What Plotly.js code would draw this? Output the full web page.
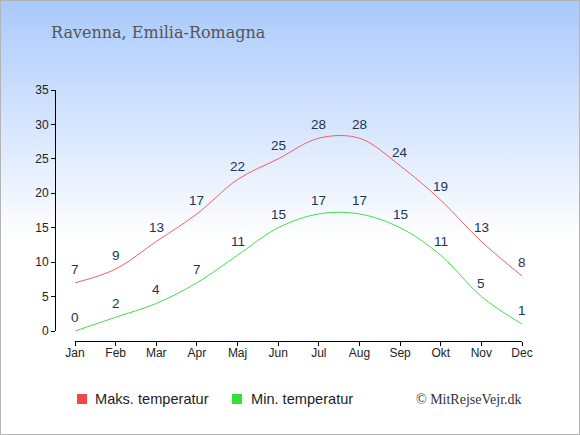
<!DOCTYPE html>
<html><head><meta charset="utf-8">
<script src="https://cdn.plot.ly/plotly-3.0.1.min.js"></script>
<style>
html,body{margin:0;padding:0;}
#wrap{position:relative;width:580px;height:435px;background:linear-gradient(to bottom,#a9c9fb 0%,#ffffff 55%);}
#wrap:after{content:"";position:absolute;left:0;top:0;right:0;bottom:0;border:1px solid #b4b4b4;pointer-events:none;}
#chart{width:580px;height:435px;}
</style></head>
<body><div id="wrap"><div id="chart"></div></div>
<script>
const months = ["Jan","Feb","Mar","Apr","Maj","Jun","Jul","Aug","Sep","Okt","Nov","Dec"];
const maxTemp = [7,9,13,17,22,25,28,28,24,19,13,8];
const minTemp = [0,2,4,7,11,15,17,17,15,11,5,1];
const yTicks = [0,5,10,15,20,25,30,35];
const seriesNames = ["Maks. temperatur","Min. temperatur"];
const titleText = "Ravenna, Emilia-Romagna";
const creditText = "© MitRejseVejr.dk";

const lineColors = ["#f06060","#44e044"];
const swatchColors = ["#ee4848","#33e033"];
const sans = "Liberation Sans, Arial, sans-serif";
const labelFont = {family:sans, size:13.5, color:"#223355"};

const W = 580, H = 435, L = 55, R = 58, T = 90, B = 94;
const pw = W - L - R, ph = H - T - B;
const px2x = p => (p - L) / pw;
const px2y = p => (H - B - p) / ph;

const series = [maxTemp, minTemp];
const traces = series.map((vals, k) => ({
  x: months, y: vals, mode:"lines", name: seriesNames[k],
  line:{color: lineColors[k], width:1, shape:"spline", smoothing:1},
  showlegend:false, hoverinfo:"skip"
}));

const annotations = [];
series.forEach(vals => {
  vals.forEach((v, i) => {
    annotations.push({x: months[i], y: v, xref:"x", yref:"y", text: String(v),
      showarrow:false, yshift:13.5, xanchor:"center", yanchor:"middle", font: labelFont});
  });
});

// legend built from series names
const legendItems = [{sq0:77, text0:93}, {sq0:232, text0:249}];
const shapes = [];
legendItems.forEach((it, k) => {
  shapes.push({type:"rect", xref:"paper", yref:"paper",
    x0: px2x(it.sq0), x1: px2x(it.sq0 + 10), y0: px2y(404), y1: px2y(394),
    fillcolor: swatchColors[k], line:{width:0}});
  annotations.push({text: seriesNames[k], xref:"paper", yref:"paper", x: px2x(it.text0), xanchor:"left",
    y: px2y(398.5), yanchor:"middle", showarrow:false, font:{family:sans, size:14.6, color:"#222"}});
});
annotations.push({text: creditText, xref:"paper", yref:"paper", x: px2x(524), xanchor:"right",
  y: px2y(399), yanchor:"middle", showarrow:false,
  font:{family:"Liberation Serif, Times New Roman, serif", size:14, color:"#333"}});

const layout = {
  width: W, height: H,
  margin:{l:L, r:R, t:T, b:B, pad:0},
  paper_bgcolor:"rgba(0,0,0,0)", plot_bgcolor:"rgba(0,0,0,0)",
  title:{text:titleText, x:51/W, xanchor:"left", y:1-32/H, yanchor:"middle",
         font:{family:"DejaVu Serif, serif", size:16, color:"#555555"}},
  font:{family:sans, size:12, color:"#222222"},
  xaxis:{type:"category", categoryorder:"array", categoryarray: months, range:[0,11],
         domain:[px2x(75), 1], anchor:"free", position:0,
         showline:true, linecolor:"#000", linewidth:1, ticks:"outside", ticklen:4, tickcolor:"#000",
         ticklabelstandoff:-3,
         showgrid:false, zeroline:false, fixedrange:true, tickfont:{size:12, color:"#222"}},
  yaxis:{range:[0,35], domain:[10/ph, 1], anchor:"free", position:0,
         tickvals: yTicks, ticktext: yTicks.map(String),
         showline:true, linecolor:"#000", linewidth:1, ticks:"outside", ticklen:4, tickcolor:"#000",
         showgrid:false, zeroline:false, fixedrange:true, tickfont:{size:12, color:"#222"}},
  showlegend:false,
  shapes: shapes,
  annotations: annotations
};
Plotly.newPlot("chart", traces, layout, {displayModeBar:false, staticPlot:true});
</script></body></html>
